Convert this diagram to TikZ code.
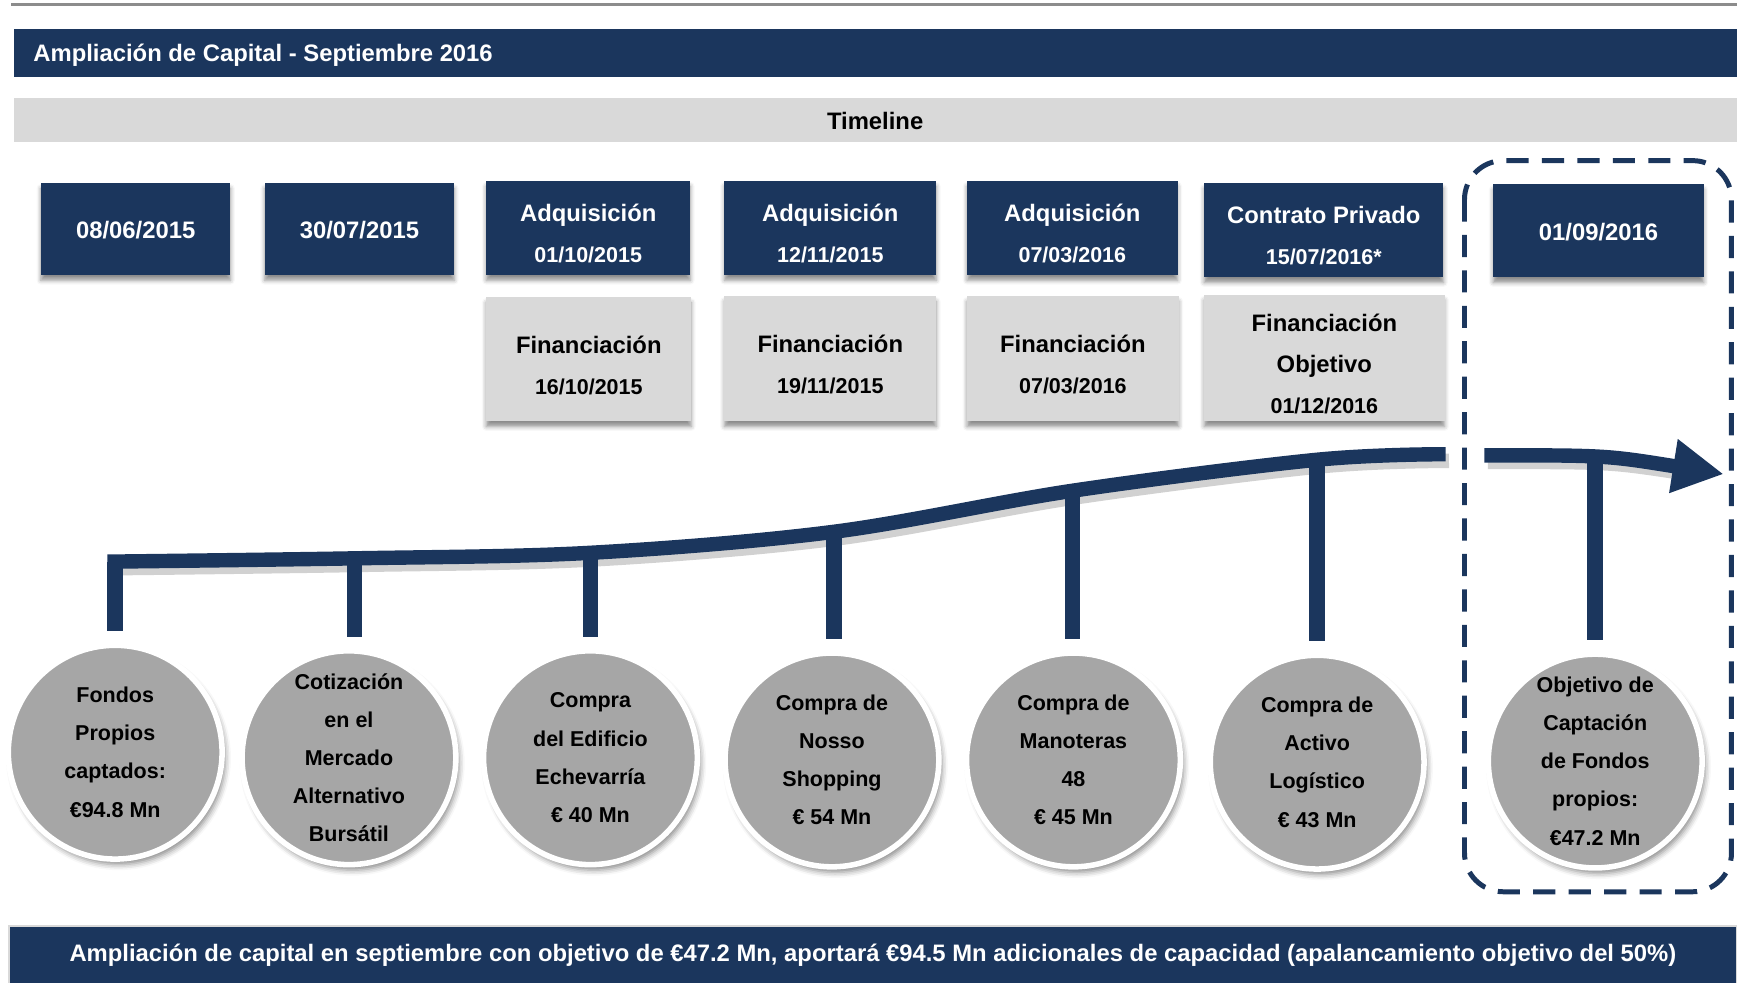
\documentclass[tikz,border=0pt]{standalone}
\usepackage{fontspec}
\setmainfont{Liberation Sans}
\usetikzlibrary{arrows.meta,shadows.blur}

\definecolor{navy}{RGB}{27,54,93}
\definecolor{paleband}{RGB}{217,217,217}
\definecolor{discgrey}{RGB}{166,166,166}
\definecolor{rulegrey}{RGB}{140,140,140}

\newcommand{\smalldate}[1]{{\fontsize{19.4}{37}\selectfont #1}}
% strut on a first line, to sit the text a little lower in its box
\newcommand{\lift}[1][26pt]{\rule{0pt}{#1}}

\tikzset{
  bigtext/.style={font=\bfseries\fontsize{21.5}{37}\selectfont},
  boxshadow/.style={blur shadow={shadow xshift=0pt, shadow yshift=-5pt,
      shadow blur radius=4pt, shadow opacity=45}},
  datebox/.style={fill=navy, text=white, inner sep=0pt, align=center,
      bigtext, boxshadow},
  finbox/.style={fill=paleband, text=black, inner sep=0pt, align=center,
      bigtext, boxshadow},
  disc/.style={circle, fill=discgrey, draw=white, line width=5pt,
      minimum size=193pt, inner sep=0pt, align=center,
      font=\bfseries\fontsize{19.4}{34.5}\selectfont,
      blur shadow={shadow xshift=3pt, shadow yshift=-5pt,
        shadow blur radius=5pt, shadow opacity=45}},
  timeline/.style={navy, line width=13pt},
  stem/.style={navy, line width=14pt, shorten >=10pt},
}

\begin{document}
\begin{tikzpicture}[x=1pt, y=-1pt]
\useasboundingbox (0,0) rectangle (1568,887);

% Header
\draw[rulegrey, line width=2.5pt] (10,4) -- (1568,4);
\node[fill=navy, minimum width=1556pt, minimum height=43pt, inner sep=0pt,
  anchor=north west] (header) at (12,26) {};
\node[anchor=base west, inner sep=0pt, text=white, font=\bfseries\fontsize{21.5}{26}\selectfont]
  (title) at ([xshift=18pt, yshift=-8pt]header.west) {Ampliación de Capital - Septiembre 2016};
\node[fill=paleband, minimum width=1556pt, minimum height=40pt, inner sep=0pt,
  anchor=north west] (band) at (12,88) {};
\node[font=\bfseries\fontsize{21.5}{26}\selectfont] (bandtext) at (790,109) {Timeline};

% Dates
\node[datebox, minimum width=171pt, minimum height=83pt] (d1) at (122.5,206.5) {\lift[18pt]08/06/2015};
\node[datebox, minimum width=171pt, minimum height=83pt] (d2) at (324.5,206.5) {\lift[18pt]30/07/2015};
\node[datebox, minimum width=184pt, minimum height=85pt] (d3) at (531,205.5) {\lift Adquisición\\\smalldate{01/10/2015}};
\node[datebox, minimum width=191pt, minimum height=85pt] (d4) at (749.5,205.5) {\lift Adquisición\\\smalldate{12/11/2015}};
\node[datebox, minimum width=190pt, minimum height=85pt] (d5) at (968,205.5) {\lift Adquisición\\\smalldate{07/03/2016}};
\node[datebox, minimum width=216pt, minimum height=85pt] (d6) at (1195,207.5) {\lift Contrato Privado\\\smalldate{15/07/2016*}};
\node[datebox, minimum width=190pt, minimum height=84pt] (d7) at (1443,208) {\lift[18pt]01/09/2016};

% Financing
\node[finbox, minimum width=185pt, minimum height=112pt] (f3) at (531.5,324) {\lift[27pt]Financiación\\\smalldate{16/10/2015}};
\node[finbox, minimum width=191pt, minimum height=113pt] (f4) at (749.5,323.5) {\lift[27pt]Financiación\\\smalldate{19/11/2015}};
\node[finbox, minimum width=191pt, minimum height=113pt] (f5) at (968.5,323.5) {\lift[27pt]Financiación\\\smalldate{07/03/2016}};
\node[finbox, minimum width=217pt, minimum height=114pt] (f6) at (1195.5,323) {\lift[27pt]Financiación\\Objetivo\\\smalldate{01/12/2016}};

% Timeline curve
\coordinate (t1) at (104,507);
\coordinate (t2) at (320,504);
\coordinate (t3) at (533,500);
\coordinate (t4) at (753,480);
\coordinate (t5) at (968,443);
\coordinate (t6) at (1189,415);
\coordinate (t7) at (1440,416);
\begin{scope}[shift={(3,6)}]
  \draw[black, opacity=0.18, line width=13pt] plot[smooth, tension=0.55]
    coordinates {(97,507) (320,504) (533,499) (753,480) (968,443) (1189,415) (1305,410)};
  \draw[black, opacity=0.18, line width=13pt] (1340,411) .. controls (1450,411) .. (1510,420);
\end{scope}
\draw[timeline] plot[smooth, tension=0.55]
  coordinates {(97,507) (320,504) (533,499) (753,480) (968,443) (1189,415) (1305,410)};
\draw[timeline, -{Triangle[length=46pt, width=46pt]}] (1340,411) .. controls (1450,411) .. (1556,428);

% Milestones
\node[disc] (c1) at (104,679) {Fondos\\Propios\\captados:\\€94.8 Mn};
\node[disc] (c2) at (315,684) {Cotización\\en el\\Mercado\\Alternativo\\Bursátil};
\node[disc] (c3) at (533,684) {Compra\\del Edificio\\Echevarría\\€ 40 Mn};
\node[disc] (c4) at (751,686) {Compra de\\Nosso\\Shopping\\€ 54 Mn};
\node[disc] (c5) at (969,686) {Compra de\\Manoteras\\48\\€ 45 Mn};
\node[disc] (c6) at (1189,688) {Compra de\\Activo\\Logístico\\€ 43 Mn};
\node[disc] (c7) at (1440,687) {Objetivo de\\Captación\\de Fondos\\propios:\\€47.2 Mn};

% Stems
\draw[stem] (t1) -- (t1 |- c1.north);
\draw[stem] (t2) -- (t2 |- c2.north);
\draw[stem] (t3) -- (t3 |- c3.north);
\draw[stem] (t4) -- (t4 |- c4.north);
\draw[stem] (t5) -- (t5 |- c5.north);
\draw[stem] (t6) -- (t6 |- c6.north);
\draw[stem] (t7) -- (t7 |- c7.north);

% Target frame
\draw[navy, line width=4.5pt, dash pattern=on 20pt off 12pt, rounded corners=35pt]
  (1322,145) rectangle (1563,805);

% Footer
\node[fill=navy, draw=paleband, line width=1.5pt, minimum width=1560pt,
  minimum height=52pt, inner sep=0pt, text=white,
  font=\bfseries\fontsize{21.5}{26}\selectfont] (footer) at (788,862)
  {Ampliación de capital en septiembre con objetivo de €47.2 Mn, aportará €94.5 Mn adicionales de capacidad (apalancamiento objetivo del 50\%)};

\end{tikzpicture}
\end{document}
